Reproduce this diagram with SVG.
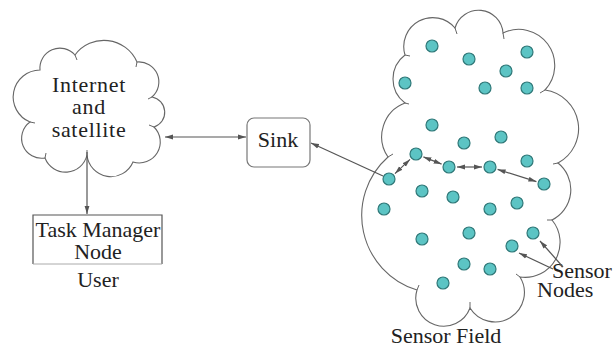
<svg xmlns="http://www.w3.org/2000/svg" width="614" height="348" viewBox="0 0 614 348">
<style>
.cloud{fill:#fff;stroke:#666;stroke-width:1.1}
.tick{fill:none;stroke:#666;stroke-width:1}
.lbl{font-family:"Liberation Serif","Times New Roman",serif;font-size:22px;fill:#222}
.cl{letter-spacing:0.7px}
.ln{stroke:#555;stroke-width:1.2;fill:none}
.nd{fill:#5cc4c4;stroke:#2f7878;stroke-width:1.2}
</style>
<defs>
<marker id="ah" markerUnits="userSpaceOnUse" markerWidth="9" markerHeight="6" refX="8" refY="3" orient="auto-start-reverse">
<path d="M0,0.6 L8,3 L0,5.4 Z" fill="#555"/>
</marker>
</defs>
<rect width="614" height="348" fill="#fff"/>

<g id="internet-cloud">
<path class="cloud" d="M40,70 A20,20 0 0 1 75,55 A36,36 0 0 1 137,62 A20,20 0 0 1 152,97 A15.5,15.5 0 0 1 154,127 A21,21 0 0 1 133,162 A24,24 0 0 1 87,155 A22,22 0 0 1 45,158 A20,20 0 0 1 30,122 A27,27 0 0 1 40,70 Z"/>
<path class="tick" d="M75,55 l2,5 M137,62 l-1,5 M152,97 l-4,2 M154,127 l-5,-2 M87,155 l0,-5 M30,122 l5,1 M45,158 l1,-5"/>
<text class="lbl cl" x="89" y="92" text-anchor="middle">Internet</text>
<text class="lbl cl" x="89" y="114" text-anchor="middle">and</text>
<text class="lbl cl" x="89" y="137" text-anchor="middle">satellite</text>
</g>

<g id="task-manager">
<path d="M33,264 V215 H162 V264" fill="none" stroke="#555" stroke-width="1.2"/>
<path d="M33,264 H162" fill="none" stroke="#aaa" stroke-width="1"/>
<text class="lbl" x="98" y="237" text-anchor="middle">Task Manager</text>
<text class="lbl" x="98" y="259" text-anchor="middle">Node</text>
</g>
<g id="user-label">
<text class="lbl" x="98" y="287" text-anchor="middle">User</text>
</g>

<g id="sink">
<rect x="247" y="118" width="63" height="49" rx="7" fill="#fff" stroke="#777" stroke-width="1.2"/>
<text class="lbl" x="278" y="147" text-anchor="middle">Sink</text>
</g>

<g id="sensor-field">
<path class="cloud" d="M405,55 A29,29 0 0 1 455,28 A24.5,24.5 0 0 1 503,33 A36,36 0 0 1 545,90 A39,39 0 0 1 558,163 A34,34 0 0 1 552,220 A35,35 0 0 1 520,277 A29,29 0 0 1 470,308 A28,28 0 0 1 417,290 A78,78 0 0 1 388,157 A36,36 0 0 1 405,103 A30,30 0 0 1 405,55 Z"/>
<path class="tick" d="M455,28 l2,6 M503,33 l1,6 M545,90 l-5,3 M558,163 l-5,1 M552,220 l-5,0 M520,277 l-4,-3 M470,308 l0,-6 M417,290 l2,-5 M388,157 l5,-3 M405,103 l4,1 M405,55 l5,1"/>
<text class="lbl" x="446" y="343" text-anchor="middle">Sensor Field</text>
</g>

<g id="sensor-nodes">
<circle class="nd" cx="432" cy="46" r="6"/>
<circle class="nd" cx="469" cy="59" r="6"/>
<circle class="nd" cx="527" cy="52" r="6"/>
<circle class="nd" cx="506" cy="71" r="6"/>
<circle class="nd" cx="405" cy="83" r="6"/>
<circle class="nd" cx="485" cy="88" r="6"/>
<circle class="nd" cx="527" cy="88" r="6"/>
<circle class="nd" cx="432" cy="125" r="6"/>
<circle class="nd" cx="464" cy="143" r="6"/>
<circle class="nd" cx="501" cy="137" r="6"/>
<circle class="nd" cx="416" cy="154" r="6"/>
<circle class="nd" cx="449" cy="167" r="6"/>
<circle class="nd" cx="490" cy="167" r="6"/>
<circle class="nd" cx="527" cy="161" r="6"/>
<circle class="nd" cx="389" cy="179" r="6"/>
<circle class="nd" cx="544" cy="184" r="6"/>
<circle class="nd" cx="422" cy="191" r="6"/>
<circle class="nd" cx="453" cy="197" r="6"/>
<circle class="nd" cx="384" cy="209" r="6"/>
<circle class="nd" cx="490" cy="209" r="6"/>
<circle class="nd" cx="517" cy="203" r="6"/>
<circle class="nd" cx="422" cy="239" r="6"/>
<circle class="nd" cx="469" cy="233" r="6"/>
<circle class="nd" cx="533" cy="233" r="6"/>
<circle class="nd" cx="512" cy="246" r="6"/>
<circle class="nd" cx="464" cy="264" r="6"/>
<circle class="nd" cx="490" cy="269" r="6"/>
<circle class="nd" cx="443" cy="283" r="6"/>
</g>

<g id="sensor-nodes-label">
<text class="lbl" x="552" y="278">Sensor</text>
<text class="lbl" x="537" y="297">Nodes</text>
</g>

<g id="connectors">
<line class="ln" x1="165" y1="137" x2="246" y2="137" marker-start="url(#ah)" marker-end="url(#ah)"/>
<line class="ln" x1="87" y1="152" x2="87" y2="214" marker-end="url(#ah)"/>
<line class="ln" x1="383" y1="176" x2="311" y2="143" marker-end="url(#ah)"/>
<line class="ln" x1="395" y1="173.6" x2="410" y2="159.4" marker-start="url(#ah)" marker-end="url(#ah)"/>
<line class="ln" x1="423.4" y1="156.9" x2="441.6" y2="164.1" marker-start="url(#ah)" marker-end="url(#ah)"/>
<line class="ln" x1="457" y1="167" x2="482" y2="167" stroke-width="1.8" marker-start="url(#ah)" marker-end="url(#ah)"/>
<line class="ln" x1="497.6" y1="169.4" x2="536.4" y2="181.6" marker-start="url(#ah)" marker-end="url(#ah)"/>
<line class="ln" x1="553" y1="269" x2="519" y2="253" marker-end="url(#ah)"/>
<line class="ln" x1="563" y1="267" x2="540" y2="241" marker-end="url(#ah)"/>
</g>
</svg>
